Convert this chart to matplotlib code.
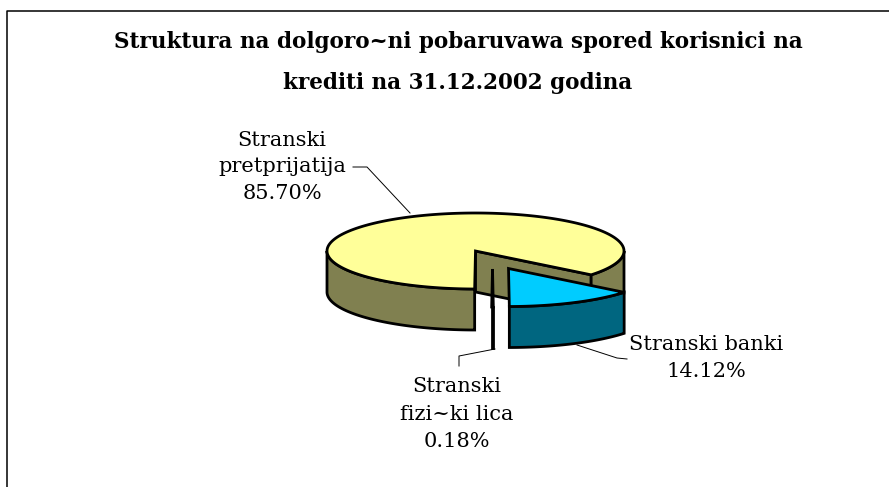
import numpy as np
from matplotlib import pyplot as plt
from matplotlib.patches import Polygon

# data
kategorii = ['Stranski\npretprijatija', 'Stranski\nfizi~ki lica', 'Stranski banki']
udeli = [85.70, 0.18, 14.12]
naslov = 'Struktura na dolgoro~ni pobaruvawa spored korisnici na\nkrediti na 31.12.2002 godina'

# boi
zolta = '#FFFF99'
maslinesta = '#808050'
sina = '#00CCFF'
temnosina = '#006680'

plt.rcParams['font.family'] = ['DejaVu Serif']

fig = plt.figure(figsize=(8.89, 4.87), dpi=100)
ax = fig.add_axes([0, 0, 1, 1])
ax.set_xlim(0, 889)
ax.set_ylim(487, 0)
ax.axis('off')

# geometrija na pitata
cx, cy = 475.5, 251
rx, ry = 148.5, 38
visina = 41
pomest_banki = (33, 17.5)
pomest_lica = (17, 18)
lw = 2

def tocki(x0, y0, a1, a2):
    t = np.radians(np.linspace(a1, a2, 200))
    return np.column_stack((x0 + rx*np.cos(t), y0 - ry*np.sin(t)))

def poly(xy, boja, z):
    ax.add_patch(Polygon(xy, closed=True, facecolor=boja, edgecolor='black',
                         linewidth=lw, joinstyle='miter', zorder=z))

# agli od vrednostite, pocnuva od dolu (270 stepeni)
a_lica = [270 - 360*udeli[1]/100/2, 270 + 360*udeli[1]/100/2]
a_banki = [a_lica[1], a_lica[1] + 360*udeli[2]/100]
a_pret = [a_banki[1], a_banki[1] + 360*udeli[0]/100]

# golema parcha: dzidovi pa vrv
vrv = np.array([cx, cy])
rab_des = tocki(cx, cy, a_pret[0], a_pret[0])[0]
dolu = np.array([0, visina])
poly([vrv, rab_des, rab_des + dolu, vrv + dolu], maslinesta, 2)
luk = tocki(cx, cy, a_pret[0], 360)
poly(np.vstack((luk, (luk + dolu)[::-1])), maslinesta, 2)
luk = tocki(cx, cy, 180, a_pret[1] - 360)
poly(np.vstack((luk, (luk + dolu)[::-1])), maslinesta, 2)
poly(np.vstack((vrv, tocki(cx, cy, a_pret[0], a_pret[1]))), zolta, 3)

# fizicki lica
x0, y0 = cx + pomest_lica[0], cy + pomest_lica[1]
luk = tocki(x0, y0, a_lica[0], a_lica[1])
poly(np.vstack((luk, (luk + dolu)[::-1])), maslinesta, 4)
poly(np.vstack(([x0, y0], luk)), maslinesta, 4)

# banki
x0, y0 = cx + pomest_banki[0], cy + pomest_banki[1]
luk = tocki(x0, y0, a_banki[0], a_banki[1])
poly(np.vstack((luk, (luk + dolu)[::-1])), temnosina, 5)
poly(np.vstack(([x0, y0], luk)), sina, 6)

# linii do natpisite
ax.plot([353, 367, 410], [167, 167, 213], color='black', lw=0.7, zorder=1)
ax.plot([577, 617, 627], [345, 358, 359], color='black', lw=0.7, zorder=1)
ax.plot([495, 459, 459], [349, 356, 366], color='black', lw=0.7, zorder=1)

# natpisi
ax.text(282, 167, kategorii[0] + '\n%.2f%%' % udeli[0], ha='center', va='center',
        fontsize=15, linespacing=1.5)
ax.text(457, 414, kategorii[1] + '\n%.2f%%' % udeli[1], ha='center', va='center',
        fontsize=15, linespacing=1.55)
ax.text(706, 358, kategorii[2] + '\n%.2f%%' % udeli[2], ha='center', va='center',
        fontsize=15, linespacing=1.5)
ax.text(458, 62.5, naslov, ha='center', va='center', fontsize=15.5, fontweight='bold',
        linespacing=2.1)

# ramka
ax.plot([7, 7, 889], [487, 10.5, 10.5], color='black', lw=1.1)

fig.savefig('out.png', dpi=100)
